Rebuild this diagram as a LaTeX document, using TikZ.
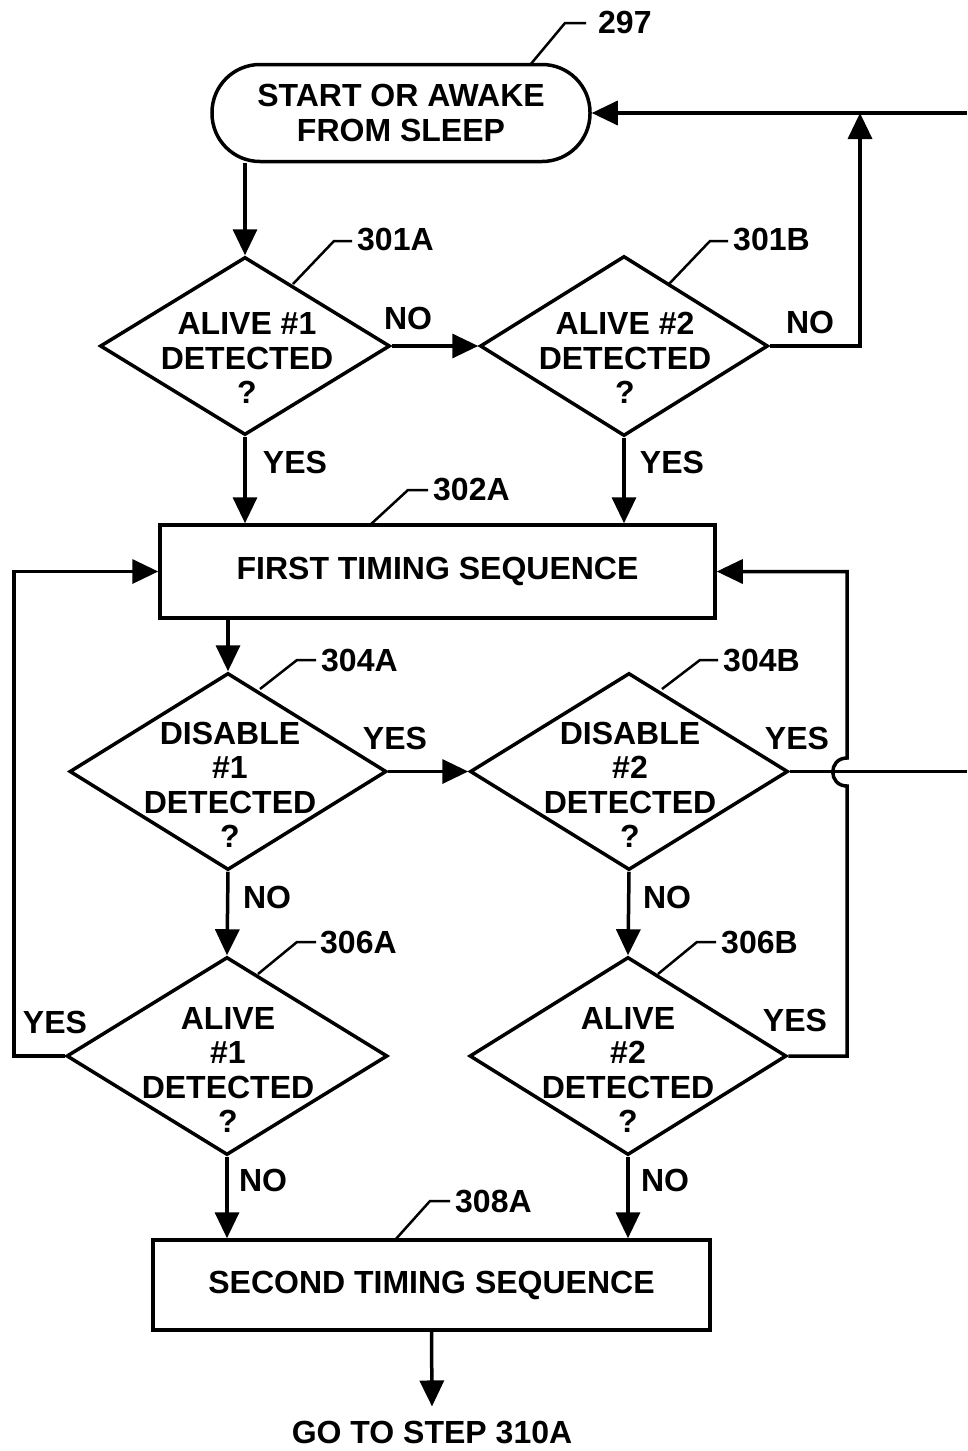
\documentclass[tikz,border=0pt]{standalone}
\usepackage{fontspec}
\setmainfont{Liberation Sans}
\usetikzlibrary{shapes.geometric,arrows.meta}
\begin{document}
\begin{tikzpicture}[x=1pt,y=-1pt,
  every node/.style={font=\fontsize{32}{34.5}\selectfont\bfseries},
  ln/.style={line width=3.5pt},
  arr/.style={ln,-{Triangle[length=26pt,width=24pt]}},
  lead/.style={line width=2.5pt},
  dia/.style={ln,draw,shape=diamond,inner sep=0pt},
  txt/.style={align=center,inner sep=0pt},
  boxx/.style={ln,draw,rectangle,inner sep=0pt,align=center},
  lab/.style={inner sep=0pt},
  num/.style={inner sep=0pt,anchor=west}
]
\useasboundingbox (0,0) rectangle (967,1451);

% nodes
\node[boxx,rounded corners=48pt,minimum width=378pt,minimum height=97pt] (term) at (401,113) {START OR AWAKE\\FROM SLEEP};

\node[dia,minimum width=290pt,minimum height=178pt] (d301A) at (245,346) {};
\node[txt] (t301A) at (247,358) {ALIVE \#1\\DETECTED\\?};
\node[dia,minimum width=288pt,minimum height=180pt] (d301B) at (624,346) {};
\node[txt] (t301B) at (625,358) {ALIVE \#2\\DETECTED\\?};

\node[boxx,minimum width=555pt,minimum height=93pt] (box1) at (437.5,571.5) {FIRST TIMING SEQUENCE};

\node[dia,minimum width=317pt,minimum height=197pt] (d304A) at (228,771.5) {};
\node[txt] (t304A) at (230,785) {DISABLE\\\#1\\DETECTED\\?};
\node[dia,minimum width=318pt,minimum height=197pt] (d304B) at (629,771.5) {};
\node[txt] (t304B) at (630,785) {DISABLE\\\#2\\DETECTED\\?};

\node[dia,minimum width=321pt,minimum height=198pt] (d306A) at (227,1056) {};
\node[txt] (t306A) at (228,1070) {ALIVE\\\#1\\DETECTED\\?};
\node[dia,minimum width=317pt,minimum height=198pt] (d306B) at (628,1056) {};
\node[txt] (t306B) at (628,1070) {ALIVE\\\#2\\DETECTED\\?};

\node[boxx,minimum width=557pt,minimum height=90pt] (box2) at (431.5,1285) {SECOND TIMING SEQUENCE};

\node[lab] (goto) at (432,1432) {GO TO STEP 310A};

% coordinates for bends and free ends
\coordinate (j1) at (860,113);
\coordinate (e1) at (967,113);
\coordinate (e2) at (967,771.5);
\coordinate (l1) at (14,571.5);
\coordinate (r1) at (847,1056);
\coordinate (h1) at (847,786);
\coordinate (h2) at (847,758);
\coordinate (r2) at (847,571.5);

% connectors
\draw[arr] (d301A.north |- term.south) -- (d301A.north);
\draw[arr] (d301A.east) -- (d301B.west);
\draw[arr] (d301B.east) -| (j1);
\draw[arr] (e1) -- (term.east);
\draw[arr] (d301A.south) -- (d301A.south |- box1.north);
\draw[arr] (d301B.south) -- (d301B.south |- box1.north);
\draw[arr] (d304A.north |- box1.south) -- (d304A.north);
\draw[arr] (d304A.east) -- (d304B.west);
\draw[ln] (d304B.east) -- (e2);
\draw[arr] (d306B.east) -- (r1) -- (h1) .. controls (828,786) and (828,758) .. (h2) -- (r2) -- (box1.east);
\draw[arr] (d306A.west) -| (l1) -- (box1.west);
\draw[arr] (d304A.south) -- (d306A.north);
\draw[arr] (d304B.south) -- (d306B.north);
\draw[arr] (d306A.south) -- (d306A.south |- box2.north);
\draw[arr] (d306B.south) -- (d306B.south |- box2.north);
\draw[arr] (box2.south) -- ([yshift=14pt]goto.north);

% yes/no labels
\node[lab] (n1) at (408,318) {NO};
\node[lab] (n2) at (810,322) {NO};
\node[lab] (y1) at (295,462) {YES};
\node[lab] (y2) at (672,462) {YES};
\node[lab] (y3) at (395,738) {YES};
\node[lab] (y4) at (797,738) {YES};
\node[lab] (n3) at (267,897) {NO};
\node[lab] (n4) at (667,897) {NO};
\node[lab] (y5) at (55,1022) {YES};
\node[lab] (y6) at (795,1020) {YES};
\node[lab] (n5) at (263,1180) {NO};
\node[lab] (n6) at (665,1180) {NO};

% reference numerals with leaders
\draw[lead] (530,65) -- (565,23) -- (586,23);
\node[num] (r297) at (598,22) {297};
\draw[lead] (293,284) -- (334,241) -- (352,241);
\node[num] (r301A) at (357,240) {301A};
\draw[lead] (669,284) -- (710,241) -- (728,241);
\node[num] (r301B) at (733,240) {301B};
\draw[lead] (370,525) -- (408,490) -- (428,490);
\node[num] (r302A) at (433,490) {302A};
\draw[lead] (260,689) -- (297,660) -- (316,660);
\node[num] (r304A) at (321,660) {304A};
\draw[lead] (662,689) -- (700,660) -- (718,660);
\node[num] (r304B) at (723,660) {304B};
\draw[lead] (258,974) -- (297,942) -- (316,942);
\node[num] (r306A) at (320,942) {306A};
\draw[lead] (658,974) -- (697,942) -- (716,942);
\node[num] (r306B) at (721,942) {306B};
\draw[lead] (395,1240) -- (430,1201) -- (450,1201);
\node[num] (r308A) at (455,1201) {308A};
\end{tikzpicture}
\end{document}
